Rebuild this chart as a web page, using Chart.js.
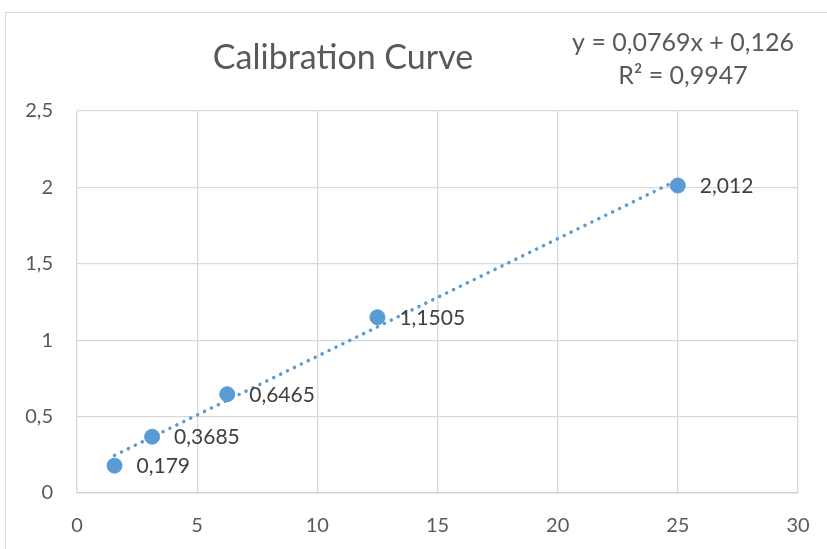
<!DOCTYPE html>
<html>
<head>
<meta charset="utf-8">
<script src="https://cdn.jsdelivr.net/npm/chart.js@4/dist/chart.umd.min.js"></script>
<style>
  html, body { margin: 0; padding: 0; background: #fff; overflow: hidden; }
  #frame { position: absolute; left: 5px; top: 12px; width: 900px; height: 600px; border: 1px solid #d9d9d9; }
  #wrap { position: absolute; left: 0; top: 0; width: 827px; height: 549px; }
</style>
</head>
<body>
<div id="frame"></div>
<div id="wrap"><canvas id="calChart" width="827" height="549"></canvas></div>
<script>
// concentration vs absorbance
const concentrations = [1.5625, 3.125, 6.25, 12.5, 25];
const absorbances = [0.179, 0.3685, 0.6465, 1.1505, 2.012];
const pointLabels = ['0,179', '0,3685', '0,6465', '1,1505', '2,012'];
const xTicks = [0, 5, 10, 15, 20, 25, 30];
const yTicks = [0, 0.5, 1, 1.5, 2, 2.5];

// linear trendline as shown on the chart
const slope = 0.0769;
const intercept = 0.126;
const equationText = 'y = 0,0769x + 0,126';
const r2Text = 'R² = 0,9947';

const fontFamily = 'Lato, "Open Sans", sans-serif';
const blue = '#5B9BD5';

const trendX = [concentrations[0], concentrations[concentrations.length - 1]];

const textPlugin = {
  id: 'textPlugin',
  afterDatasetsDraw(chart) {
    const ctx = chart.ctx;
    const xs = chart.scales.x;
    const ys = chart.scales.y;
    ctx.save();
    // data labels
    ctx.font = '21px ' + fontFamily;
    ctx.fillStyle = '#404040';
    ctx.textAlign = 'left';
    ctx.textBaseline = 'middle';
    concentrations.forEach((c, i) => {
      ctx.fillText(pointLabels[i], xs.getPixelForValue(c) + 22, ys.getPixelForValue(absorbances[i]) + 1);
    });
    // title
    ctx.fillStyle = '#595959';
    ctx.textAlign = 'center';
    ctx.font = '34px ' + fontFamily;
    ctx.fillText('Calibration Curve', 343, 58);
    // equation
    ctx.font = '25px ' + fontFamily;
    ctx.fillText(equationText, 683, 43);
    ctx.fillText(r2Text, 683, 76);
    ctx.restore();
  }
};

new Chart(document.getElementById('calChart').getContext('2d'), {
  type: 'scatter',
  data: {
    datasets: [{
      label: 'Trendline',
      type: 'line',
      data: trendX.map(x => ({ x: x, y: slope * x + intercept })),
      borderColor: blue,
      borderWidth: 3.5,
      borderDash: [0.1, 7.6],
      borderCapStyle: 'round',
      pointRadius: 0,
      fill: false
    }, {
      label: 'Absorbance',
      data: concentrations.map((c, i) => ({ x: c, y: absorbances[i] })),
      backgroundColor: blue,
      borderColor: blue,
      pointRadius: 7.5,
      pointHoverRadius: 7.5
    }]
  },
  options: {
    responsive: false,
    animation: false,
    layout: {
      padding: { top: 111, right: 29, left: 0, bottom: 0 }
    },
    plugins: {
      legend: { display: false },
      tooltip: { enabled: false }
    },
    scales: {
      x: {
        type: 'linear',
        min: 0,
        max: 30,
        afterBuildTicks: scale => { scale.ticks = xTicks.map(v => ({ value: v })); },
        afterFit: scale => { scale.height = 56; scale.paddingRight = 0; scale.paddingLeft = 0; },
        grid: { color: '#d9d9d9', lineWidth: 1.3, drawTicks: false },
        border: { color: '#d0d0d0', width: 1.3 },
        ticks: {
          color: '#595959',
          padding: 21,
          font: { family: fontFamily, size: 20 }
        }
      },
      y: {
        type: 'linear',
        min: 0,
        max: 2.5,
        afterBuildTicks: scale => { scale.ticks = yTicks.map(v => ({ value: v })); },
        afterFit: scale => { scale.width = 77; scale.paddingTop = 0; scale.paddingBottom = 0; },
        grid: { color: '#d9d9d9', lineWidth: 1.3, drawTicks: false },
        border: { display: false },
        ticks: {
          color: '#595959',
          padding: 24,
          font: { family: fontFamily, size: 20 },
          callback: v => String(v).replace('.', ',')
        }
      }
    }
  },
  plugins: [textPlugin]
});
</script>
</body>
</html>
